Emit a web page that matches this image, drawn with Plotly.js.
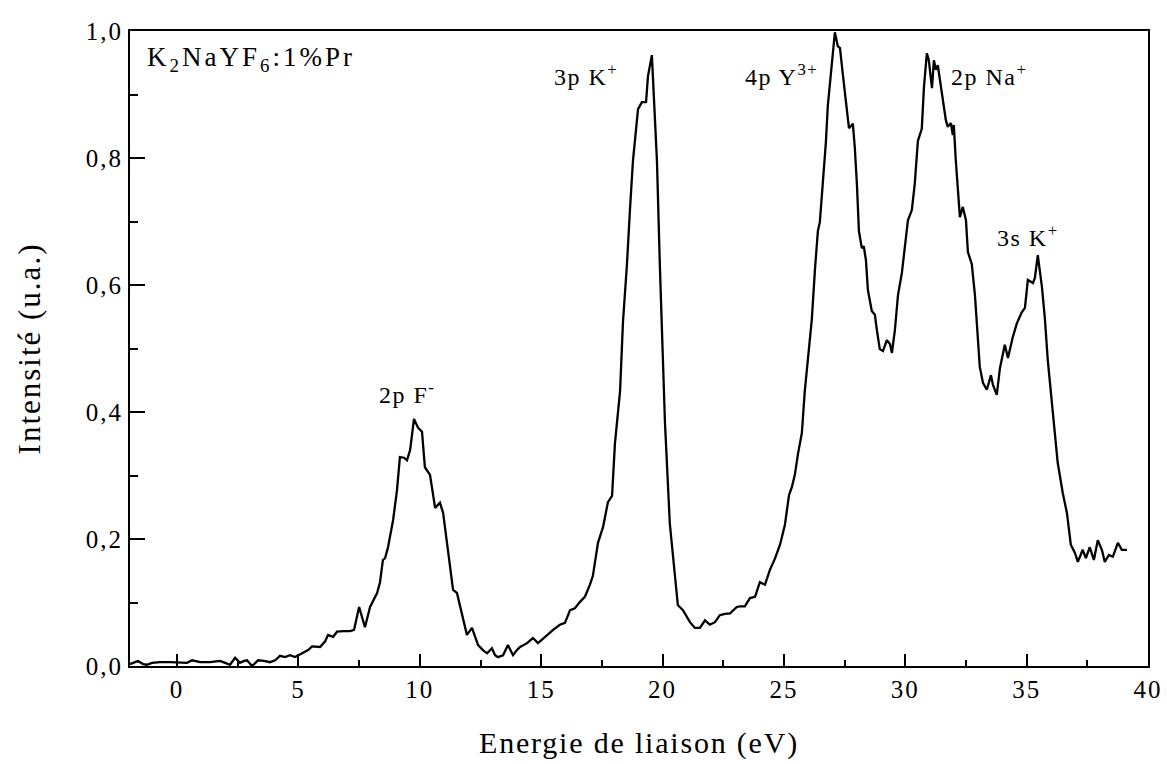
<!DOCTYPE html>
<html>
<head>
<meta charset="utf-8">
<script src="https://cdn.plot.ly/plotly-3.0.1.min.js"></script>
<style>
  html, body { margin: 0; padding: 0; background: #fff; }
  #chart { width: 1167px; height: 764px; }
  .xtick text, .ytick text { letter-spacing: 2px; }
  .g-xtitle text { letter-spacing: 1.8px; }
  .g-ytitle text { letter-spacing: 2px; }
  .annotation-text { letter-spacing: 1.5px; }
  .annotation[data-index="5"] .annotation-text { letter-spacing: 3px; }
</style>
</head>
<body>
<div id="chart"></div>
<script>
// Binding energy (eV)
const energy = [
  -1.94, -1.77, -1.61, -1.40, -1.24, -1.03, -0.70, -0.29, 0.00, 0.21, 0.41, 0.62, 0.95, 1.36, 1.77, 1.98,
  2.18, 2.39, 2.59, 2.76, 2.88, 3.09, 3.34, 3.58, 3.83, 4.04, 4.24, 4.45, 4.65, 4.86, 5.15, 5.40,
  5.56, 5.89, 6.10, 6.22, 6.43, 6.59, 6.84, 7.13, 7.29, 7.50, 7.74, 7.95, 8.24, 8.36, 8.48, 8.57,
  8.69, 8.90, 9.06, 9.18, 9.35, 9.47, 9.60, 9.76, 9.93, 10.09, 10.21, 10.42, 10.63, 10.83, 10.96, 11.16,
  11.37, 11.53, 11.74, 11.94, 12.15, 12.40, 12.60, 12.77, 12.97, 13.10, 13.22, 13.43, 13.63, 13.84, 14.00, 14.13,
  14.42, 14.66, 14.87, 15.16, 15.49, 15.77, 15.98, 16.19, 16.39, 16.60, 16.80, 17.01, 17.13, 17.34, 17.55, 17.75,
  17.92, 18.04, 18.25, 18.37, 18.53, 18.66, 18.78, 18.99, 19.15, 19.32, 19.40, 19.56, 19.77, 19.89, 20.10, 20.30,
  20.51, 20.63, 20.84, 21.13, 21.33, 21.54, 21.75, 21.95, 22.16, 22.36, 22.57, 22.78, 23.06, 23.19, 23.39, 23.60,
  23.81, 24.01, 24.22, 24.42, 24.63, 24.84, 25.04, 25.21, 25.33, 25.45, 25.58, 25.74, 25.86, 25.99, 26.15, 26.28,
  26.40, 26.48, 26.61, 26.73, 26.81, 26.98, 27.10, 27.22, 27.31, 27.43, 27.55, 27.68, 27.84, 27.92, 28.01, 28.09,
  28.21, 28.29, 28.38, 28.46, 28.62, 28.75, 28.83, 28.95, 29.08, 29.24, 29.37, 29.45, 29.57, 29.70, 29.86, 29.98,
  30.11, 30.27, 30.39, 30.52, 30.68, 30.77, 30.89, 30.97, 31.10, 31.18, 31.26, 31.34, 31.47, 31.55, 31.67, 31.75,
  31.88, 31.96, 32.00, 32.08, 32.17, 32.25, 32.37, 32.50, 32.58, 32.74, 32.87, 32.99, 33.07, 33.20, 33.36, 33.53,
  33.61, 33.77, 33.90, 34.10, 34.23, 34.43, 34.60, 34.80, 34.93, 35.05, 35.26, 35.34, 35.46, 35.63, 35.75, 35.87,
  36.04, 36.16, 36.28, 36.49, 36.66, 36.82, 36.99, 37.11, 37.31, 37.44, 37.60, 37.77, 37.93, 38.10, 38.22, 38.39,
  38.55, 38.76, 38.92, 39.13
];
// Intensity (u.a.)
const intensity = [
  0.003, 0.006, 0.008, 0.003, 0.002, 0.005, 0.006, 0.006, 0.006, 0.005, 0.005, 0.009, 0.006, 0.006, 0.008, 0.005,
  0.002, 0.013, 0.005, 0.008, 0.009, 0.000, 0.009, 0.008, 0.006, 0.009, 0.016, 0.014, 0.017, 0.014, 0.020, 0.025,
  0.031, 0.030, 0.039, 0.049, 0.046, 0.054, 0.055, 0.055, 0.057, 0.093, 0.061, 0.093, 0.115, 0.132, 0.167, 0.170,
  0.187, 0.230, 0.277, 0.329, 0.328, 0.324, 0.340, 0.389, 0.375, 0.369, 0.313, 0.301, 0.249, 0.257, 0.241, 0.183,
  0.120, 0.115, 0.080, 0.049, 0.060, 0.033, 0.025, 0.020, 0.028, 0.017, 0.014, 0.017, 0.033, 0.017, 0.025, 0.030,
  0.036, 0.044, 0.036, 0.046, 0.057, 0.065, 0.068, 0.088, 0.091, 0.101, 0.109, 0.128, 0.142, 0.194, 0.219, 0.258,
  0.268, 0.351, 0.433, 0.542, 0.630, 0.720, 0.795, 0.877, 0.888, 0.888, 0.929, 0.962, 0.795, 0.630, 0.383, 0.224,
  0.142, 0.096, 0.088, 0.069, 0.060, 0.060, 0.072, 0.065, 0.069, 0.080, 0.082, 0.083, 0.093, 0.094, 0.094, 0.107,
  0.109, 0.132, 0.128, 0.151, 0.169, 0.191, 0.222, 0.269, 0.282, 0.301, 0.334, 0.367, 0.433, 0.480, 0.546, 0.625,
  0.685, 0.699, 0.765, 0.825, 0.883, 0.957, 0.998, 0.976, 0.973, 0.931, 0.891, 0.847, 0.854, 0.817, 0.757, 0.685,
  0.658, 0.661, 0.639, 0.592, 0.559, 0.553, 0.529, 0.499, 0.496, 0.513, 0.507, 0.493, 0.528, 0.584, 0.619, 0.660,
  0.702, 0.718, 0.759, 0.827, 0.846, 0.912, 0.965, 0.954, 0.910, 0.954, 0.939, 0.946, 0.912, 0.891, 0.860, 0.849,
  0.855, 0.836, 0.852, 0.797, 0.745, 0.707, 0.723, 0.702, 0.652, 0.633, 0.584, 0.521, 0.471, 0.446, 0.435, 0.458,
  0.443, 0.427, 0.469, 0.506, 0.485, 0.518, 0.540, 0.557, 0.564, 0.608, 0.603, 0.611, 0.647, 0.597, 0.548, 0.482,
  0.419, 0.367, 0.320, 0.272, 0.241, 0.191, 0.178, 0.164, 0.183, 0.170, 0.187, 0.167, 0.198, 0.183, 0.164, 0.175,
  0.172, 0.194, 0.183, 0.183
];

// Peak labels
const peakLabels = ['2p F<sup>-</sup>', '3p K<sup>+</sup>', '4p Y<sup>3+</sup>', '2p Na<sup>+</sup>', '3s K<sup>+</sup>'];
const peakLabelX = [9.47, 16.85, 24.92, 33.46, 35.05];
const peakLabelY = [0.43, 0.93, 0.93, 0.93, 0.677];
const sampleLabel = 'K<sub>2</sub>NaYF<sub>6</sub>:1%Pr';

const serif = "'Liberation Serif', 'Times New Roman', serif";

const trace = {
  x: energy, y: intensity, type: 'scatter', mode: 'lines',
  line: { color: '#000', width: 2.3 }, hoverinfo: 'skip', showlegend: false
};

const annotations = peakLabels.map((t, i) => ({
  x: peakLabelX[i], y: peakLabelY[i], xref: 'x', yref: 'y', text: t, showarrow: false,
  xanchor: 'center', yanchor: 'middle', font: { family: serif, size: 24, color: '#000' }
}));
annotations.push({
  x: -0.95, y: 0.956, xref: 'x', yref: 'y', text: sampleLabel, showarrow: false,
  xanchor: 'left', yanchor: 'middle', font: { family: serif, size: 27, color: '#000' }
});

const axisCommon = {
  showgrid: false, zeroline: false, showline: true, mirror: true,
  linecolor: '#000', linewidth: 2, ticks: 'inside', tickcolor: '#000', tickwidth: 2,
  tickfont: { family: serif, size: 25, color: '#000' }
};

const layout = {
  width: 1167, height: 764,
  margin: { l: 130, r: 19, t: 31, b: 98 },
  paper_bgcolor: '#fff', plot_bgcolor: '#fff',
  separators: ', ',
  xaxis: Object.assign({}, axisCommon, {
    range: [-1.94, 40], tickmode: 'linear', tick0: 0, dtick: 5, ticklen: 12,
    minor: { dtick: 2.5, tick0: 0, ticklen: 6, tickwidth: 2, tickcolor: '#000', ticks: 'inside' },
    title: { text: 'Energie de liaison (eV)', font: { family: serif, size: 30, color: '#000' }, standoff: 30 }
  }),
  yaxis: Object.assign({}, axisCommon, {
    range: [0, 1.0], tickmode: 'linear', tick0: 0, dtick: 0.2, ticklen: 15, tickformat: '.1f',
    minor: { dtick: 0.1, tick0: 0, ticklen: 8, tickwidth: 2, tickcolor: '#000', ticks: 'inside' },
    title: { text: 'Intensité (u.a.)', font: { family: serif, size: 31, color: '#000' }, standoff: 36 }
  }),
  annotations: annotations
};

Plotly.newPlot('chart', [trace], layout, { displayModeBar: false, staticPlot: true });
</script>
</body>
</html>
